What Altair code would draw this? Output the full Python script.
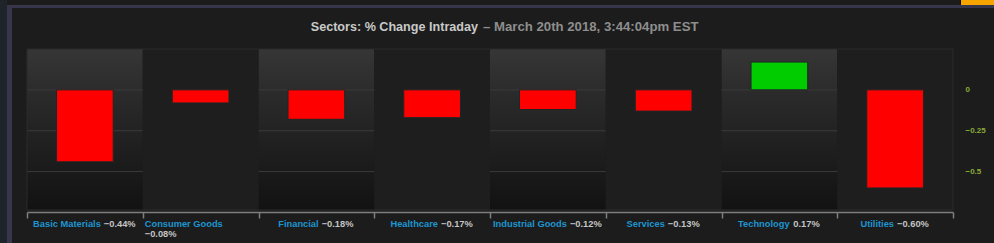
import altair as alt
import pandas as pd

# ---------------- data ----------------
sectors = ["Basic Materials", "Consumer Goods", "Financial", "Healthcare",
           "Industrial Goods", "Services", "Technology", "Utilities"]
changes = [-0.44, -0.08, -0.18, -0.17, -0.12, -0.13, 0.17, -0.60]
y_ticks = [0, -0.25, -0.5]
title_main = "Sectors: % Change Intraday"
title_sub = "\u2013 March 20th 2018, 3:44:04pm EST"

# ---------------- layout ----------------
W, H = 926, 161
PAD = {"left": 27, "top": 49, "right": 41, "bottom": 33}
N = len(sectors)
BW = W / N
Y_DOMAIN = [-0.735, 0.25]
LABEL_FS = 9.3
GAP = 3
TITLE_FS = 12.6
TITLE_SPLIT = 451

# Helvetica/Arial bold advance widths (per 1000 em) for label layout
BOLD = {" ": 278, "%": 889, ",": 278, "-": 333, ".": 278, ":": 333,
        "\u2212": 584, "\u2013": 556}
for d in "0123456789":
    BOLD[d] = 556
BOLD.update(dict(A=722, B=722, C=722, D=722, E=667, F=611, G=778, H=722, I=278,
                 J=556, K=722, L=611, M=833, N=722, O=778, P=667, Q=778, R=722,
                 S=667, T=611, U=722, V=667, W=944, X=667, Y=667, Z=611))
BOLD.update(dict(a=556, b=611, c=556, d=611, e=556, f=333, g=611, h=611, i=278,
                 j=278, k=556, l=278, m=889, n=611, o=611, p=611, q=611, r=389,
                 s=556, t=333, u=611, v=556, w=778, x=556, y=556, z=500))


def text_width(s, size):
    return sum(BOLD.get(ch, 600) for ch in s) * size / 1000.0


def fmt(v):
    return f"{v:.2f}%".replace("-", "\u2212")


rows = []
for i, (name, v) in enumerate(zip(sectors, changes)):
    val = fmt(v)
    wn = text_width(name, LABEL_FS)
    wv = text_width(val, LABEL_FS)
    total = wn + 4 + wv
    if total > BW - 3:
        nx = i * BW + 2
        vx = nx
        wrapped = True
    else:
        nx = (i + 0.5) * BW - total / 2
        vx = nx + wn + GAP
        wrapped = False
    rows.append(dict(sector=name, change=v, shaded=(i % 2 == 0), val=val,
                     nx=nx / BW, vx=vx / BW, wrapped=wrapped))
df = pd.DataFrame(rows)
base = alt.Chart(df)

yscale = alt.Scale(domain=Y_DOMAIN, nice=False, zero=False)
yaxis = alt.Axis(orient="right", values=y_ticks, format=".2~f", labelColor="#8aab3a",
                 labelFontSize=8, labelFontWeight="bold", labelPadding=12,
                 domain=False, ticks=False, grid=False, title=None)
xscale = alt.Scale(domain=sectors, paddingInner=0, paddingOuter=0)
xaxis = alt.Axis(orient="bottom", labels=False, title=None, tickBand="extent",
                 domainColor="#7e7e7e", tickColor="#7e7e7e", tickSize=6, offset=2,
                 grid=False, domainWidth=1.5, tickWidth=1.5)
x_band = alt.X("sector:N", scale=xscale, axis=xaxis, sort=sectors)

gradient = alt.LinearGradient(
    gradient="linear", x1=0, y1=0, x2=0, y2=1,
    stops=[alt.GradientStop(color="#363636", offset=0),
           alt.GradientStop(color="#2a2a2a", offset=0.3),
           alt.GradientStop(color="#1f1f1f", offset=0.62),
           alt.GradientStop(color="#121212", offset=1)])

shade = base.transform_filter("datum.shaded").mark_rect(fill=gradient).encode(
    x=x_band, y=alt.value(0), y2=alt.value(H))

grid = alt.Chart(pd.DataFrame({"g": y_ticks})).mark_rule(
    color="#3b3b3b", strokeWidth=1).encode(
    y=alt.Y("g:Q", scale=yscale, axis=yaxis), x=alt.value(0), x2=alt.value(W))

flat = base.transform_filter("!datum.shaded").mark_rect(fill="#1e1e1e").encode(
    x=x_band, y=alt.value(0), y2=alt.value(H))

bars = base.mark_bar(width=alt.RelativeBandSize(0.49), stroke="#1f2626",
                     strokeWidth=1).encode(
    x=x_band,
    y=alt.Y("change:Q", scale=yscale, axis=yaxis, stack=None),
    y2=alt.datum(0),
    fill=alt.when("datum.change > 0").then(alt.value("#00cc00")).otherwise(alt.value("#ff0000")),
)

one = pd.DataFrame({"k": [0]})
frame = alt.Chart(one).mark_rect(fillOpacity=0, stroke="#2b2b2b", strokeWidth=1).encode(
    x=alt.value(0), x2=alt.value(W), y=alt.value(0), y2=alt.value(H))

main = alt.layer(shade, grid, flat, bars, frame)


def lx(f):
    return alt.X(f"{f}:Q", scale=alt.Scale(domain=[0, N], nice=False, zero=False), axis=None)


txt = dict(align="left", baseline="middle", fontSize=LABEL_FS, fontWeight="bold")
names = base.mark_text(color="#1c95d0", **txt).encode(
    x=lx("nx"), y=alt.value(H + 14), text="sector:N")
vals1 = base.transform_filter("!datum.wrapped").mark_text(color="#c4c4c4", **txt).encode(
    x=lx("vx"), y=alt.value(H + 14), text="val:N")
vals2 = base.transform_filter("datum.wrapped").mark_text(color="#c4c4c4", **txt).encode(
    x=lx("vx"), y=alt.value(H + 24), text="val:N")

t1 = alt.Chart(pd.DataFrame({"t": [title_main]})).mark_text(
    align="right", baseline="middle", fontSize=TITLE_FS, fontWeight="bold",
    color="#c9c9c9").encode(x=alt.value(TITLE_SPLIT), y=alt.value(-22), text="t:N")
t2 = alt.Chart(pd.DataFrame({"t": [title_sub]})).mark_text(
    align="left", baseline="middle", fontSize=TITLE_FS + 0.6, fontWeight="bold",
    color="#8e8e8e").encode(x=alt.value(TITLE_SPLIT + 5), y=alt.value(-22), text="t:N")

# window chrome
L, T = PAD["left"], PAD["top"]
FULL_W = W + PAD["left"] + PAD["right"]
FULL_H = H + PAD["top"] + PAD["bottom"]


def box(x0, x1, y0, y1, color):
    return alt.Chart(one).mark_rect(fill=color).encode(
        x=alt.value(x0 - L), x2=alt.value(x1 - L), y=alt.value(y0 - T), y2=alt.value(y1 - T))


chrome = [
    box(0, 7, 0, FULL_H, "#1f232a"),
    box(7, 12, 5, FULL_H, "#37364a"),
    box(7, FULL_W, 5, 8, "#37364a"),
    box(960, FULL_W, 0, 5, "#0d0d1a"),
    box(961, FULL_W, 0, 5, "#f7a400"),
]

chart = alt.layer(main, names, vals1, vals2, t1, t2, *chrome).resolve_scale(
    x="independent"
).properties(
    width=W, height=H, padding=PAD, autosize="none"
).configure(
    background="#1c1c1c", font="Liberation Sans"
).configure_view(stroke=None)

chart.save("out.html", embed_options={"renderer": "svg", "actions": False})
